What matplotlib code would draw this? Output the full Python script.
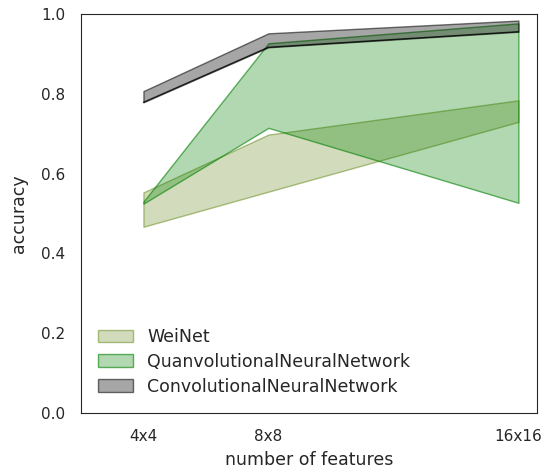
import matplotlib
matplotlib.use("Agg")
import matplotlib.pyplot as plt
from matplotlib.colors import to_rgba
import seaborn as sns

features = [4, 8, 16]
feature_labels = ["4x4", "8x8", "16x16"]

weinet_low = [0.467, 0.555, 0.730]
weinet_high = [0.553, 0.698, 0.784]

qnn_low = [0.525, 0.715, 0.527]
qnn_high = [0.530, 0.927, 0.977]

cnn_low = [0.779, 0.917, 0.956]
cnn_high = [0.807, 0.952, 0.984]

sns.set_style("white")

fig = plt.figure(figsize=(5.47, 4.73), dpi=100)
ax = fig.add_axes([0.148, 0.127, 0.834, 0.843])


def band(low, high, color, face_alpha, edge_alpha, label):
    ax.fill_between(features, low, high, facecolor=to_rgba(color, face_alpha),
                    edgecolor=to_rgba(color, edge_alpha), linewidth=1, label=label)


band(weinet_low, weinet_high, "olivedrab", 0.3, 0.55, "WeiNet")
band(qnn_low, qnn_high, "green", 0.3, 0.6, "QuanvolutionalNeuralNetwork")
band(cnn_low, cnn_high, "black", 0.35, 0.55, "ConvolutionalNeuralNetwork")
ax.plot(features, cnn_low, color="black", lw=1, alpha=0.75)

ax.set_xlim(2, 16.6)
ax.set_ylim(0, 1)
ax.set_xticks(features)
ax.set_xticklabels(feature_labels)
ax.tick_params(labelsize=11, pad=8)
ax.set_xlabel("number of features", fontsize=12.5, labelpad=5)
ax.set_ylabel("accuracy", fontsize=12.5, labelpad=9)
ax.legend(loc="lower left", frameon=False, fontsize=12.5, labelspacing=0.4,
          borderaxespad=0.6)

fig.savefig("out.png", dpi=100)
